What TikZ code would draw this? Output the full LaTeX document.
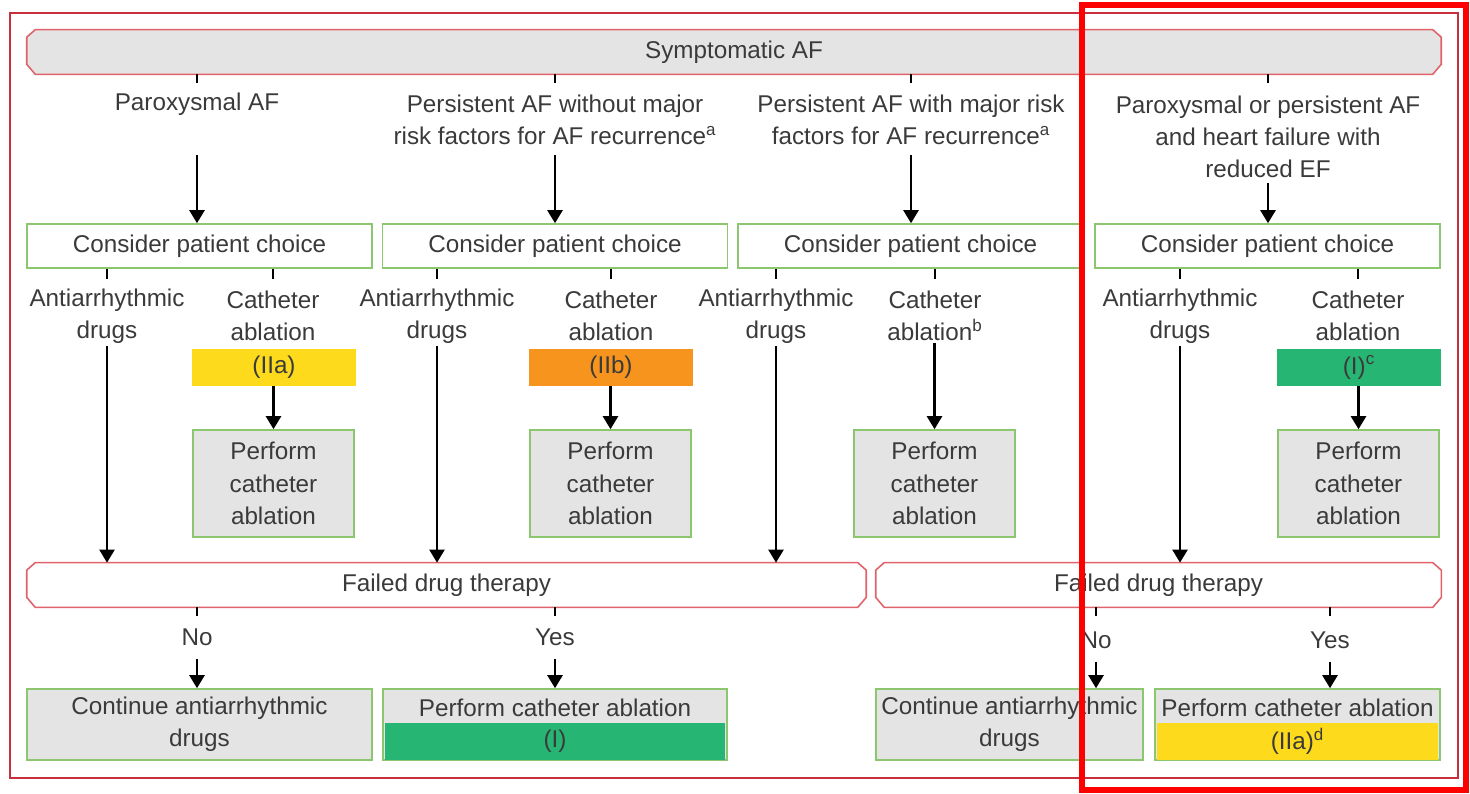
\documentclass[tikz,border=0pt]{standalone}
\usepackage{fontspec}
\setmainfont{Liberation Sans}
\usepackage{xcolor}
\usepackage{tikz}
\usetikzlibrary{arrows.meta, backgrounds}

\definecolor{txtgrey}{HTML}{3A3A3A}
\definecolor{boxgrey}{HTML}{E4E4E4}
\definecolor{boxgreen}{HTML}{8CC66E}
\definecolor{boxred}{HTML}{E0626A}
\definecolor{framered}{HTML}{C62F3B}
\definecolor{clsone}{HTML}{27B573}
\definecolor{clstwoa}{HTML}{FDDA1C}
\definecolor{clstwob}{HTML}{F7941E}

\begin{document}
\begin{tikzpicture}[
  x=0.02cm, y=-0.02cm,
  every node/.style={font=\fontsize{13.8}{18.4}\selectfont, text=txtgrey},
  hdr/.style={minimum height=0.88cm, inner sep=0pt},
  chamf/.style={draw=boxred, line width=0.9pt},
  choice/.style={draw=boxgreen, line width=0.9pt, fill=white, minimum width=6.9cm, minimum height=0.88cm, inner sep=0pt},
  lbl/.style={align=center, inner sep=1pt},
  cls/.style={minimum width=3.28cm, minimum height=0.74cm, inner sep=0pt},
  perf/.style={draw=boxgreen, line width=0.9pt, fill=boxgrey, minimum width=3.22cm, minimum height=2.14cm, align=center, inner sep=0pt},
  endbox/.style={draw=boxgreen, line width=0.9pt, fill=boxgrey, minimum height=1.42cm, align=center, inner sep=0pt},
  arr/.style={-{Triangle[length=0.26cm, width=0.3cm]}, line width=1.35pt},
  tick/.style={line width=1.6pt},
]
  \useasboundingbox (0,0) rectangle (1470,794);
  \draw[framered, line width=1.3pt] (10,13) rectangle (1458,778);

  % header and the four groups of patients
  \node[hdr, minimum width=28.28cm] (sym) at (734,52) {Symptomatic AF};
  \node[lbl] (p1) at (197,104) {Paroxysmal AF};
  \node[lbl] (p2) at (555,120) {Persistent AF without major\\risk factors for AF recurrence\textsuperscript{a}};
  \node[lbl] (p3) at (911,120) {Persistent AF with major risk\\factors for AF recurrence\textsuperscript{a}};
  \node[lbl] (p4) at (1268,137) {Paroxysmal or persistent AF\\and heart failure with\\reduced EF};
  \coordinate (toprow) at (0,155);
  \coordinate (hfrow) at (0,183);

  \node[choice] (c1) at (199.5,246) {Consider patient choice};
  \node[choice] (c2) at (555,246) {Consider patient choice};
  \node[choice] (c3) at (910.5,246) {Consider patient choice};
  \node[choice] (c4) at (1267.5,246) {Consider patient choice};

  \draw[tick] (sym.south -| p1) -- ++(0,9);
  \draw[tick] (sym.south -| p2) -- ++(0,9);
  \draw[tick] (sym.south -| p3) -- ++(0,9);
  \draw[tick] (sym.south -| p4) -- ++(0,9);
  \draw[arr] (p1 |- toprow) -- (p1 |- c1.north);
  \draw[arr] (p2 |- toprow) -- (p2 |- c2.north);
  \draw[arr] (p3 |- toprow) -- (p3 |- c3.north);
  \draw[arr] (p4 |- hfrow) -- (p4 |- c4.north);

  % options under each choice
  \node[lbl] (dr1) at (107,316) {Antiarrhythmic\\drugs};
  \node[lbl] (ca1) at (273,316) {Catheter\\ablation};
  \node[lbl] (dr2) at (437,316) {Antiarrhythmic\\drugs};
  \node[lbl] (ca2) at (611,316) {Catheter\\ablation};
  \node[lbl] (dr3) at (776,316) {Antiarrhythmic\\drugs};
  \node[lbl] (ca3) at (935,316) {Catheter\\ablation\textsuperscript{b}};
  \node[lbl] (dr4) at (1180,316) {Antiarrhythmic\\drugs};
  \node[lbl] (ca4) at (1358,316) {Catheter\\ablation};

  \foreach \c/\o in {c1/dr1, c1/ca1, c2/dr2, c2/ca2, c3/dr3, c3/ca3, c4/dr4, c4/ca4}
    \draw[tick] (\c.south -| \o) -- ++(0,10);

  \node[cls, fill=clstwoa] (k1) at (274,367.5) {(IIa)};
  \node[cls, fill=clstwob] (k2) at (611,367.5) {(IIb)};
  \node[cls, fill=clsone] (k4) at (1359,367.5) {(I)\textsuperscript{c}};

  \node[perf] (pf1) at (273.5,483.5) {Perform\\catheter\\ablation};
  \node[perf] (pf2) at (610.5,483.5) {Perform\\catheter\\ablation};
  \node[perf] (pf3) at (934.5,483.5) {Perform\\catheter\\ablation};
  \node[perf] (pf4) at (1358.5,483.5) {Perform\\catheter\\ablation};

  \draw[arr] (k1.south -| pf1) -- (pf1.north);
  \draw[arr] (k2.south -| pf2) -- (pf2.north);
  \draw[arr] (ca3.south -| pf3) -- (pf3.north);
  \draw[arr] (k4.south -| pf4) -- (pf4.north);

  % failed drug therapy
  \node[hdr, minimum width=16.78cm] (fL) at (446.5,585) {Failed drug therapy};
  \node[hdr, minimum width=11.3cm] (fR) at (1158.5,585) {Failed drug therapy};

  % chamfered outlines behind the header texts
  \begin{scope}[on background layer]
    \foreach \n/\f in {sym/boxgrey, fL/white, fR/white}
      \draw[chamf, fill=\f] ([xshift=0.17cm]\n.north west) -- ([xshift=-0.17cm]\n.north east)
        -- ([yshift=-0.15cm]\n.north east) -- ([yshift=0.2cm]\n.south east)
        -- ([xshift=-0.17cm]\n.south east) -- ([xshift=0.17cm]\n.south west)
        -- ([yshift=0.2cm]\n.south west) -- ([yshift=-0.15cm]\n.north west) -- cycle;
  \end{scope}

  \draw[arr] (dr1.south) -- (dr1.south |- fL.north);
  \draw[arr] (dr2.south) -- (dr2.south |- fL.north);
  \draw[arr] (dr3.south) -- (dr3.south |- fL.north);
  \draw[arr] (dr4.south) -- (dr4.south |- fR.north);

  \node[lbl] (no1) at (197,637) {No};
  \node[lbl] (yes1) at (555,637) {Yes};
  \node[lbl] (no2) at (1096,640) {No};
  \node[lbl] (yes2) at (1330,640) {Yes};

  \draw[tick] (fL.south -| no1) -- ++(0,9);
  \draw[tick] (fL.south -| yes1) -- ++(0,9);
  \draw[tick] (fR.south -| no2) -- ++(0,9);
  \draw[tick] (fR.south -| yes2) -- ++(0,9);

  % outcomes
  \node[endbox, minimum width=6.9cm] (cont1) at (199.5,724.5) {Continue antiarrhythmic\\drugs};
  \node[endbox, minimum width=6.88cm] (abl1) at (555,724.5) {};
  \node[cls, fill=clsone, minimum width=6.8cm, minimum height=0.74cm, anchor=south] (abl1c) at ([yshift=0.45pt]abl1.south) {(I)};
  \node[lbl] (abl1t) at (555,708) {Perform catheter ablation};
  \node[endbox, minimum width=5.34cm] (cont2) at (1009.5,724.5) {Continue antiarrhythmic\\drugs};
  \node[endbox, minimum width=5.7cm] (abl2) at (1297.5,724.5) {};
  \node[cls, fill=clstwoa, minimum width=5.62cm, minimum height=0.74cm, anchor=south] (abl2c) at ([yshift=0.45pt]abl2.south) {(IIa)\textsuperscript{d}};
  \node[lbl] (abl2t) at (1297.5,708) {Perform catheter ablation};

  \draw[arr] ([yshift=-0.22cm]no1.south) -- (no1 |- cont1.north);
  \draw[arr] ([yshift=-0.22cm]yes1.south) -- (yes1 |- abl1.north);
  \draw[arr] ([yshift=-0.22cm]no2.south) -- (no2 |- cont2.north);
  \draw[arr] ([yshift=-0.22cm]yes2.south) -- (yes2 |- abl2.north);

  % highlight frame
  \draw[red, line width=3.4pt] (1082,5) rectangle (1466,790);
\end{tikzpicture}
\end{document}
